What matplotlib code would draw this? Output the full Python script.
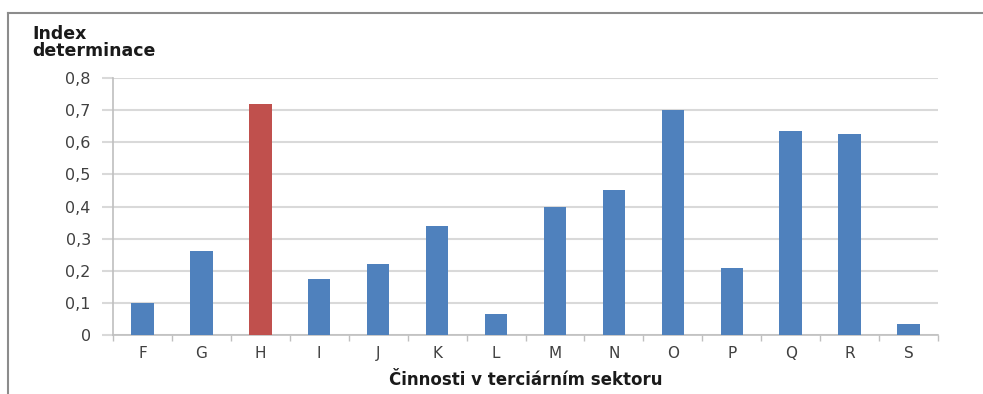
import matplotlib.pyplot as plt
from matplotlib.lines import Line2D
from matplotlib.ticker import FuncFormatter, MultipleLocator
import numpy as np

# values
categories = ['F', 'G', 'H', 'I', 'J', 'K', 'L', 'M', 'N', 'O', 'P', 'Q', 'R', 'S']
index_values = [0.10, 0.26, 0.72, 0.175, 0.22, 0.34, 0.065, 0.40, 0.45, 0.70, 0.21, 0.635, 0.625, 0.035]
highlight = 'H'

blue = '#4f81bd'
red = '#c0504d'
grid_grey = '#d9d9d9'
text_grey = '#404040'

plt.rcParams['font.family'] = ['DejaVu Sans']

fig = plt.figure(figsize=(9.83, 3.94), dpi=100)
ax = fig.add_axes([113 / 983, 1 - 335 / 394, (938 - 113) / 983, (335 - 78) / 394])

x = np.arange(len(categories))
colors = [red if c == highlight else blue for c in categories]
ax.bar(x, index_values, width=0.38, color=colors, zorder=3)

ax.set_xlim(-0.5, len(categories) - 0.5)
ax.set_ylim(0, 0.8)
ax.yaxis.set_major_locator(MultipleLocator(0.1))
ax.yaxis.set_major_formatter(FuncFormatter(
    lambda v, _: '0' if abs(v) < 1e-9 else f'{v:.1f}'.replace('.', ',')))
ax.grid(axis='y', color=grid_grey, linewidth=1.5, zorder=0)

ax.set_xticks(x)
ax.set_xticklabels(categories)
ax.set_xticks(np.arange(len(categories) + 1) - 0.5, minor=True)
ax.tick_params(axis='x', which='major', length=0, pad=8, labelsize=11, labelcolor=text_grey)
ax.tick_params(axis='x', which='minor', length=4, width=1, color='#bfbfbf', direction='out')
ax.tick_params(axis='y', length=8, width=1.5, color=grid_grey, pad=8, labelsize=11.5, labelcolor=text_grey)

for side in ['top', 'right']:
    ax.spines[side].set_visible(False)
ax.spines['left'].set_color('#bfbfbf')
ax.spines['bottom'].set_color('#bfbfbf')
ax.spines['left'].set_linewidth(1.2)
ax.spines['bottom'].set_linewidth(1.2)

ax.set_xlabel('Činnosti v terciárním sektoru', fontsize=12, fontweight='bold',
              color='#1a1a1a', labelpad=7)

fig.text(32 / 983, 1 - 25 / 394, 'Index\ndeterminace', fontsize=12.5, fontweight='bold',
         color='#1a1a1a', ha='left', va='top', linespacing=0.95)

# frame lines seen on top and left of the reference
fig.add_artist(Line2D([8 / 983, 1], [1 - 13 / 394, 1 - 13 / 394], color='#8c8c8c', linewidth=1.5))
fig.add_artist(Line2D([8 / 983, 8 / 983], [0, 1 - 13 / 394], color='#8c8c8c', linewidth=1.5))

fig.savefig('out.png', dpi=100)
